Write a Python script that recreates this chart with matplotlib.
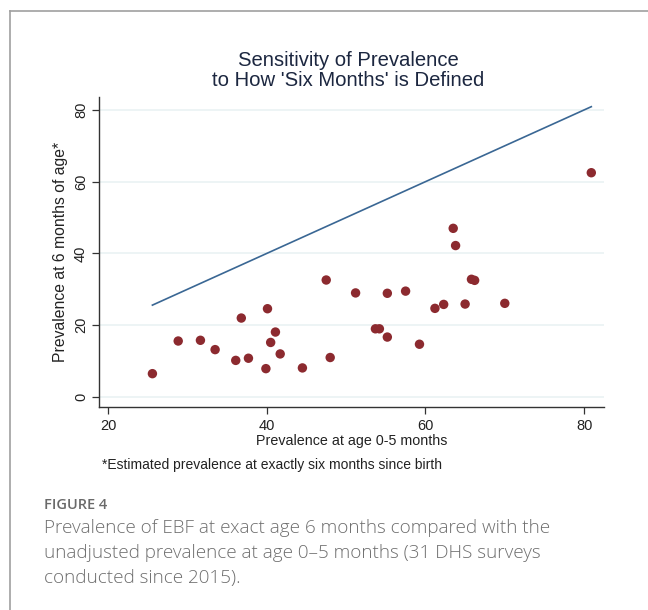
import matplotlib
matplotlib.use("Agg")
import matplotlib.pyplot as plt

# prevalence at age 0-5 months (x) vs estimated prevalence at exactly 6 months (y)
prev_0_5 = [25.6, 28.85, 31.65, 33.5, 36.1, 36.8, 37.7, 39.9, 40.1, 40.5,
            41.1, 41.7, 44.5, 47.5, 48.0, 51.2, 53.7, 54.2, 55.2, 55.2,
            57.5, 59.25, 61.2, 62.3, 63.5, 63.8, 65.0, 65.8, 66.2, 70.0, 80.9]
prev_6m = [6.5, 15.6, 15.8, 13.2, 10.2, 22.0, 10.8, 7.9, 24.6, 15.2,
           18.1, 12.0, 8.1, 32.6, 11.0, 29.0, 19.0, 19.0, 28.9, 16.7,
           29.5, 14.7, 24.7, 25.8, 47.0, 42.2, 25.9, 32.8, 32.5, 26.1, 62.5]
ticks = [0, 20, 40, 60, 80]
xticks = [20, 40, 60, 80]

fig = plt.figure(figsize=(6.48, 6.10), dpi=100)
plt.rcParams['font.family'] = ['Liberation Sans', 'DejaVu Sans']

# outer frame (only left and top edges visible in the crop)
fig.add_artist(plt.Line2D([10 / 648, 10 / 648], [0, 1 - 11 / 610],
                          transform=fig.transFigure, color='#a0a0a0', lw=1.2))
fig.add_artist(plt.Line2D([10 / 648, 1], [1 - 11 / 610, 1 - 11 / 610],
                          transform=fig.transFigure, color='#a0a0a0', lw=1.2))

ax = fig.add_axes([99 / 648, 1 - 407 / 610, (604 - 99) / 648, (407 - 97) / 610])
ax.set_xlim(18.87, 82.5)
ax.set_ylim(-2.79, 83.6)

for t in ticks:
    ax.axhline(t, color='#eaf2f3', lw=1.2, zorder=0)

lo, hi = min(prev_0_5), max(prev_0_5)
ax.plot([lo, hi], [lo, hi], color='#3a6794', lw=1.2, zorder=2)
ax.scatter(prev_0_5, prev_6m, s=46, color='#8c2a2f', edgecolors='none', zorder=3)

ax.spines['top'].set_visible(False)
ax.spines['right'].set_visible(False)
for s in ('left', 'bottom'):
    ax.spines[s].set_color('#333333')
    ax.spines[s].set_linewidth(1.0)

ax.set_xticks(xticks)
ax.set_yticks(ticks)
ax.set_yticklabels([str(t) for t in ticks], rotation=90, va='center')
ax.tick_params(axis='both', colors='#333333', labelcolor='#222222',
               labelsize=10.5, length=5, width=0.9)
ax.tick_params(axis='y', pad=3)
ax.tick_params(axis='x', pad=4)

ax.set_xlabel('Prevalence at age 0-5 months', fontsize=10.3, color='#222222', labelpad=0)
ax.set_ylabel('Prevalence at 6 months of age*', fontsize=11.3, color='#222222', labelpad=4)

fig.text(348 / 648, 1 - 60 / 610, 'Sensitivity of Prevalence', ha='center', va='center',
         fontsize=14.6, color='#1c2740')
fig.text(348 / 648, 1 - 81 / 610, "to How 'Six Months' is Defined", ha='center', va='center',
         fontsize=14.6, color='#1c2740')
fig.text(102 / 648, 1 - 465 / 610, '*Estimated prevalence at exactly six months since birth',
         ha='left', va='center', fontsize=10, color='#222222')

# caption
fig.text(44 / 648, 1 - 505 / 610, 'FIGURE 4', ha='left', va='center',
         fontsize=10.5, color='#6a6a6a', family='Open Sans', fontweight='semibold')
caption = ['Prevalence of EBF at exact age 6 months compared with the',
           'unadjusted prevalence at age 0\u20135 months (31 DHS surveys',
           'conducted since 2015).']
for i, line in enumerate(caption):
    fig.text(44 / 648, 1 - (528 + 25 * i) / 610, line, ha='left', va='center',
             fontsize=13.6, color='#6e6e6e', family='Open Sans', fontweight='light')

fig.savefig('out.png', dpi=100)
